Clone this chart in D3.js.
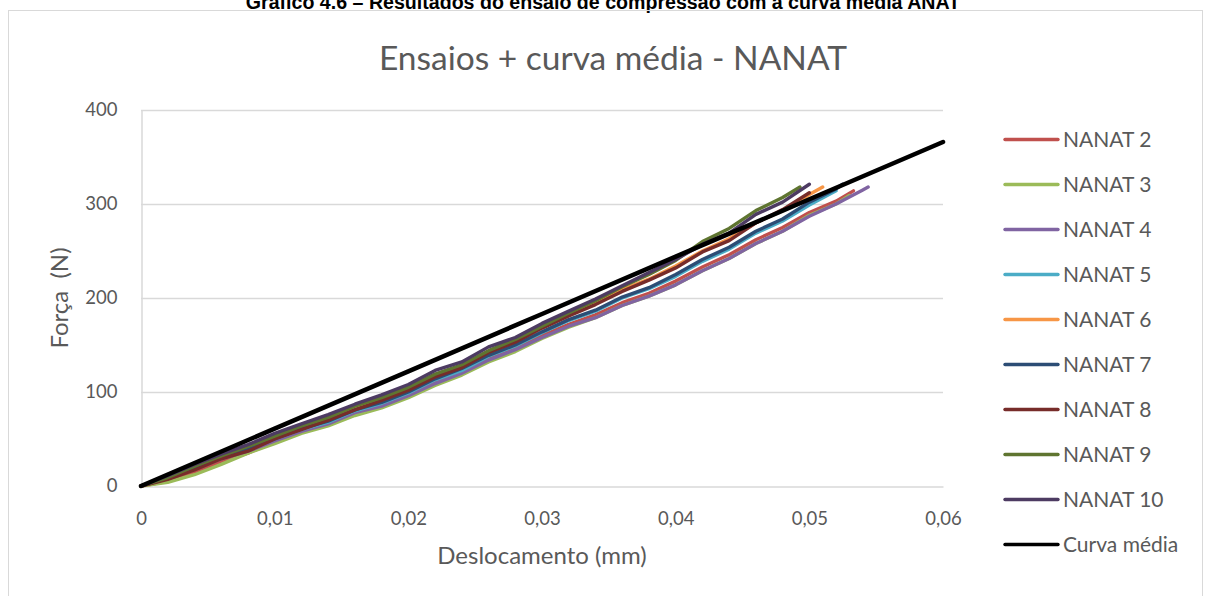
<!DOCTYPE html>
<html><head><meta charset="utf-8">
<script src="https://cdn.jsdelivr.net/npm/d3@7"></script>
<style>
html,body{margin:0;padding:0;background:#fff;}
svg{display:block;}
</style>
</head><body>
<svg id="chart" width="1205" height="596"></svg>
<script>
// ---- data ----
const pageCaption = "Gráfico 4.6 – Resultados do ensaio de compressão com a curva média ANAT";
const chartTitle = "Ensaios + curva média - NANAT";
const xAxisTitle = "Deslocamento (mm)";
const yAxisTitle = "Força  (N)";
const xTicks = [0, 0.01, 0.02, 0.03, 0.04, 0.05, 0.06];
const xTickLabels = ["0", "0,01", "0,02", "0,03", "0,04", "0,05", "0,06"];
const yTicks = [0, 100, 200, 300, 400];
const yTickLabels = ["0", "100", "200", "300", "400"];

const seriesNames = ["NANAT 2","NANAT 3","NANAT 4","NANAT 5","NANAT 6","NANAT 7","NANAT 8","NANAT 9","NANAT 10","Curva média"];
const seriesColors = ["#C0504D","#9BBB59","#8064A2","#4BACC6","#F79646","#2C4D75","#772C2A","#5F7530","#4D3B62","#000000"];

// displacement grid (mm) shared by the tests
const disp = [0,0.002,0.004,0.006,0.008,0.010,0.012,0.014,0.016,0.018,0.020,0.022,0.024,0.026,0.028,0.030,0.032,0.034,0.036,0.038,0.040,0.042,0.044,0.046,0.048,0.050,0.052,0.054];

// forces (N) at each grid displacement, then final point of each test
const nanat2  = [0,5,14,26,35,47,57,66,77,86,97,110,121,135,146,160,172,182,195,205,218,233,246,262,275,291,303];
const nanat3  = [0,4,12,23,35,45,56,64,75,83,94,107,118,132,143,157,169,179,192,202,214,229,242,258,271,288,300];
const nanat4  = [0,8,18,29,37,48,58,66,78,85,96,109,120,134,145,158,170,179,192,202,214,229,242,258,271,287,300,315];
const nanat5  = [0,10,21,30,42,50,60,68,80,88,99,113,123,138,149,163,176,186,200,210,223,239,252,269,282,299,313];
const nanat6  = [0,8,19,31,39,51,62,71,83,92,103,117,128,143,155,169,183,194,209,220,234,250,263,280,293,310];
const nanat7  = [0,8,19,30,39,50,61,69,81,89,100,114,125,139,150,164,177,187,201,211,225,241,254,271,284,302,316];
const nanat8  = [0,7,17,29,37,50,60,70,81,91,102,116,126,142,153,168,181,193,207,219,232,249,261,280,294,312];
const nanat9  = [0,9,21,32,42,53,64,73,85,94,105,119,129,144,156,170,184,197,212,225,240,260,274,293,307];
const nanat10 = [0,11,23,34,44,56,66,76,87,97,108,123,132,148,158,173,186,199,213,227,241,257,269,289,302,321];
const endDisp  = [0.0533,0.0530,0.0544,0.0520,0.0510,0.0525,0.0500,0.0493,0.0500];
const endForce = [314,309,318,314,318,321,312,318,321];

// average curve
const meanDisp  = [0,0.01,0.02,0.03,0.04,0.05,0.06];
const meanForce = [0,61,122,183,244,305,366];

// ---- chart ----
const svg = d3.select("#chart");
const plot = {left:141, right:943, top:110, bottom:486};
const x = d3.scaleLinear().domain([0,0.06]).range([plot.left, plot.right]);
const y = d3.scaleLinear().domain([0,400]).range([plot.bottom, plot.top]);
const textColor = "#595959";
const font = "Lato, 'Open Sans', sans-serif";

// page caption (cut off at top, as in the source page)
svg.append("text").attr("x", 603).attr("y", 9).attr("text-anchor","middle")
  .attr("font-family","'Liberation Sans', Arial, sans-serif").attr("font-weight","bold")
  .attr("font-size",19.6).attr("fill","#000").text(pageCaption);

// chart frame
svg.append("rect").attr("x",8.5).attr("y",10.5).attr("width",1194).attr("height",620)
  .attr("fill","none").attr("stroke","#D9D9D9").attr("stroke-width",1);

// title
svg.append("text").attr("x", 613).attr("y", 70).attr("text-anchor","middle")
  .attr("font-family",font).attr("font-size",33.5).attr("fill",textColor).text(chartTitle);

// gridlines
svg.append("g").selectAll("line").data(yTicks.slice(1)).join("line")
  .attr("x1",plot.left).attr("x2",plot.right)
  .attr("y1",d=>Math.round(y(d))+0.5).attr("y2",d=>Math.round(y(d))+0.5)
  .attr("stroke","#D9D9D9").attr("stroke-width",1.5);

// axes
const xAxis = d3.axisBottom(x).tickValues(xTicks).tickFormat((d,i)=>xTickLabels[i]).tickSize(0).tickPadding(25);
const gx = svg.append("g").attr("transform",`translate(0,${plot.bottom+0.5})`).call(xAxis);
gx.select(".domain").attr("stroke","#D9D9D9").attr("stroke-width",1.5);
gx.selectAll("text").attr("font-family",font).attr("font-size",18.5).attr("fill",textColor);

const yAxis = d3.axisLeft(y).tickValues(yTicks).tickFormat((d,i)=>yTickLabels[i]).tickSize(0).tickPadding(24);
const gy = svg.append("g").attr("transform",`translate(${plot.left+0.5},0)`).call(yAxis);
gy.select(".domain").attr("stroke","#D9D9D9").attr("stroke-width",1.5);
gy.selectAll("text").attr("font-family",font).attr("font-size",18.5).attr("fill",textColor);

// axis titles
svg.append("text").attr("x", 542).attr("y", 564).attr("text-anchor","middle")
  .attr("font-family",font).attr("font-size",24).attr("fill",textColor).text(xAxisTitle);
svg.append("text").attr("transform","translate(68,298) rotate(-90)").attr("text-anchor","middle")
  .attr("font-family",font).attr("font-size",24).attr("fill",textColor)
  .style("white-space","pre").text(yAxisTitle);

// series
const forces = [nanat2,nanat3,nanat4,nanat5,nanat6,nanat7,nanat8,nanat9,nanat10];
const line = d3.line().x(d=>x(d[0])).y(d=>y(d[1]));
forces.forEach((f,i)=>{
  const pts = f.map((v,j)=>[disp[j], v]).filter(p=>p[0] < endDisp[i]);
  pts.push([endDisp[i], endForce[i]]);
  svg.append("path").datum(pts).attr("d",line).attr("fill","none")
    .attr("stroke",seriesColors[i]).attr("stroke-width",3.4)
    .attr("stroke-linejoin","round").attr("stroke-linecap","round");
});
svg.append("path").datum(meanDisp.map((d,j)=>[d, meanForce[j]])).attr("d",line)
  .attr("fill","none").attr("stroke","#000").attr("stroke-width",4.5).attr("stroke-linecap","round");

// legend
const lg = svg.append("g");
seriesNames.forEach((n,i)=>{
  const yy = 139.5 + i*45;
  lg.append("line").attr("x1",1005).attr("x2",1058).attr("y1",yy).attr("y2",yy)
    .attr("stroke",seriesColors[i]).attr("stroke-width",3.4).attr("stroke-linecap","round");
  lg.append("text").attr("x",1063).attr("y",yy+7).attr("font-family",font)
    .attr("font-size",21).attr("fill",textColor).text(n);
});
</script>
</body></html>
